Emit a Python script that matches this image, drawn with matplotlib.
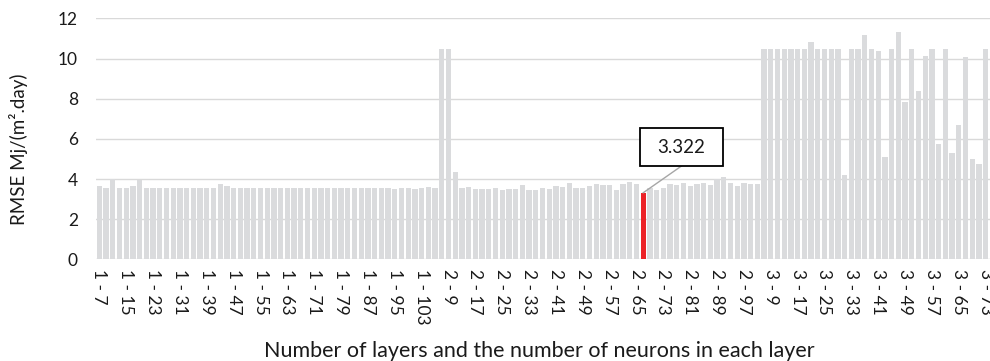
import numpy as np
import matplotlib
matplotlib.use("Agg")
import matplotlib.pyplot as plt
from matplotlib.patches import Rectangle

plt.rcParams['font.family'] = ['Lato', 'DejaVu Sans']

# RMSE of each network, grouped by number of hidden layers
# (neurons per layer go 7, 9, 11, ... in every group)
rmse_1layer = [3.67, 3.55, 4.01, 3.55, 3.56, 3.67, 3.95, 3.54, 3.55, 3.55,
               3.55, 3.54, 3.55, 3.55, 3.56, 3.55, 3.54, 3.56, 3.78, 3.68,
               3.54, 3.56, 3.55, 3.55, 3.54, 3.55, 3.56, 3.55, 3.55, 3.54,
               3.55, 3.56, 3.55, 3.55, 3.56, 3.57, 3.55, 3.55, 3.56, 3.55,
               3.54, 3.57, 3.58, 3.58, 3.53, 3.55, 3.58, 3.52, 3.57, 3.60,
               3.58]
rmse_2layer = [10.47, 10.47, 4.37, 3.58, 3.62, 3.53, 3.53, 3.53, 3.58, 3.48,
               3.53, 3.53, 3.70, 3.48, 3.48, 3.57, 3.53, 3.64, 3.63, 3.82,
               3.58, 3.54, 3.67, 3.77, 3.72, 3.72, 3.44, 3.74, 3.87, 3.75,
               3.322, 3.56, 3.45, 3.58, 3.78, 3.69, 3.82, 3.66, 3.77, 3.82,
               3.71, 3.99, 4.09, 3.82, 3.68, 3.80, 3.75, 3.74]
rmse_3layer = [10.46, 10.46, 10.46, 10.46, 10.46, 10.46, 10.46, 10.82, 10.46, 10.46,
               10.46, 10.46, 4.23, 10.46, 10.46, 11.20, 10.46, 10.37, 5.12, 10.46,
               11.32, 7.83, 10.46, 8.40, 10.15, 10.46, 5.73, 10.46, 5.28, 6.70,
               10.07, 5.02, 4.75, 10.46, 11.30]

labels = []
values = []
for layer, vals in [(1, rmse_1layer), (2, rmse_2layer), (3, rmse_3layer)]:
    for k, v in enumerate(vals):
        labels.append("%d - %d" % (layer, 7 + 2 * k))
        values.append(v)
values = np.array(values)
x = np.arange(len(values))

best = int(np.argmin(values))
colors = ['#dadbdd'] * len(values)
colors[best] = '#ec2227'

fig = plt.figure(figsize=(9.9, 3.61), dpi=100)
ax = fig.add_axes([0.097, 0.2812, 0.903, 0.6676])

ax.bar(x, values, width=0.78, color=colors, zorder=2)

ax.set_ylim(0, 12)
ax.set_yticks(np.arange(0, 13, 2))
ax.set_xlim(-0.5, 132.65)
ax.set_xticks(x[::4])
ax.set_xticklabels(labels[::4], rotation=-90, fontsize=12.5, color='#1a1a1a')
ax.tick_params(axis='x', length=0, pad=7)
ax.tick_params(axis='y', length=0, pad=13, labelsize=12.5, labelcolor='#1a1a1a')
ax.grid(axis='y', color='#d9d9d9', linewidth=1.0, zorder=0)
for s in ax.spines.values():
    s.set_visible(False)

ax.set_ylabel('RMSE Mj/(m².day)', fontsize=13.5, color='#1a1a1a', va='center')
ax.yaxis.set_label_coords(-0.087, 0.458)
fig.text(0.545, 0.012, 'Number of layers and the number of neurons in each layer',
         ha='center', va='baseline', fontsize=15.5, color='#1a1a1a')

# callout for the lowest error
bx, by = best + 5.7, 5.6
bw, bh = 12.4, 1.89
ax.plot([bx, best], [by - bh / 2, values[best]], color='#a6a6a6', linewidth=1.0, zorder=3)
ax.add_patch(Rectangle((bx - bw / 2, by - bh / 2), bw, bh, facecolor='white',
                       edgecolor='black', linewidth=1.3, zorder=4))
ax.text(bx, by, '%.3f' % values[best], ha='center', va='center', fontsize=13.5,
        color='#1a1a1a', zorder=5)

fig.savefig('out.png', dpi=100)
